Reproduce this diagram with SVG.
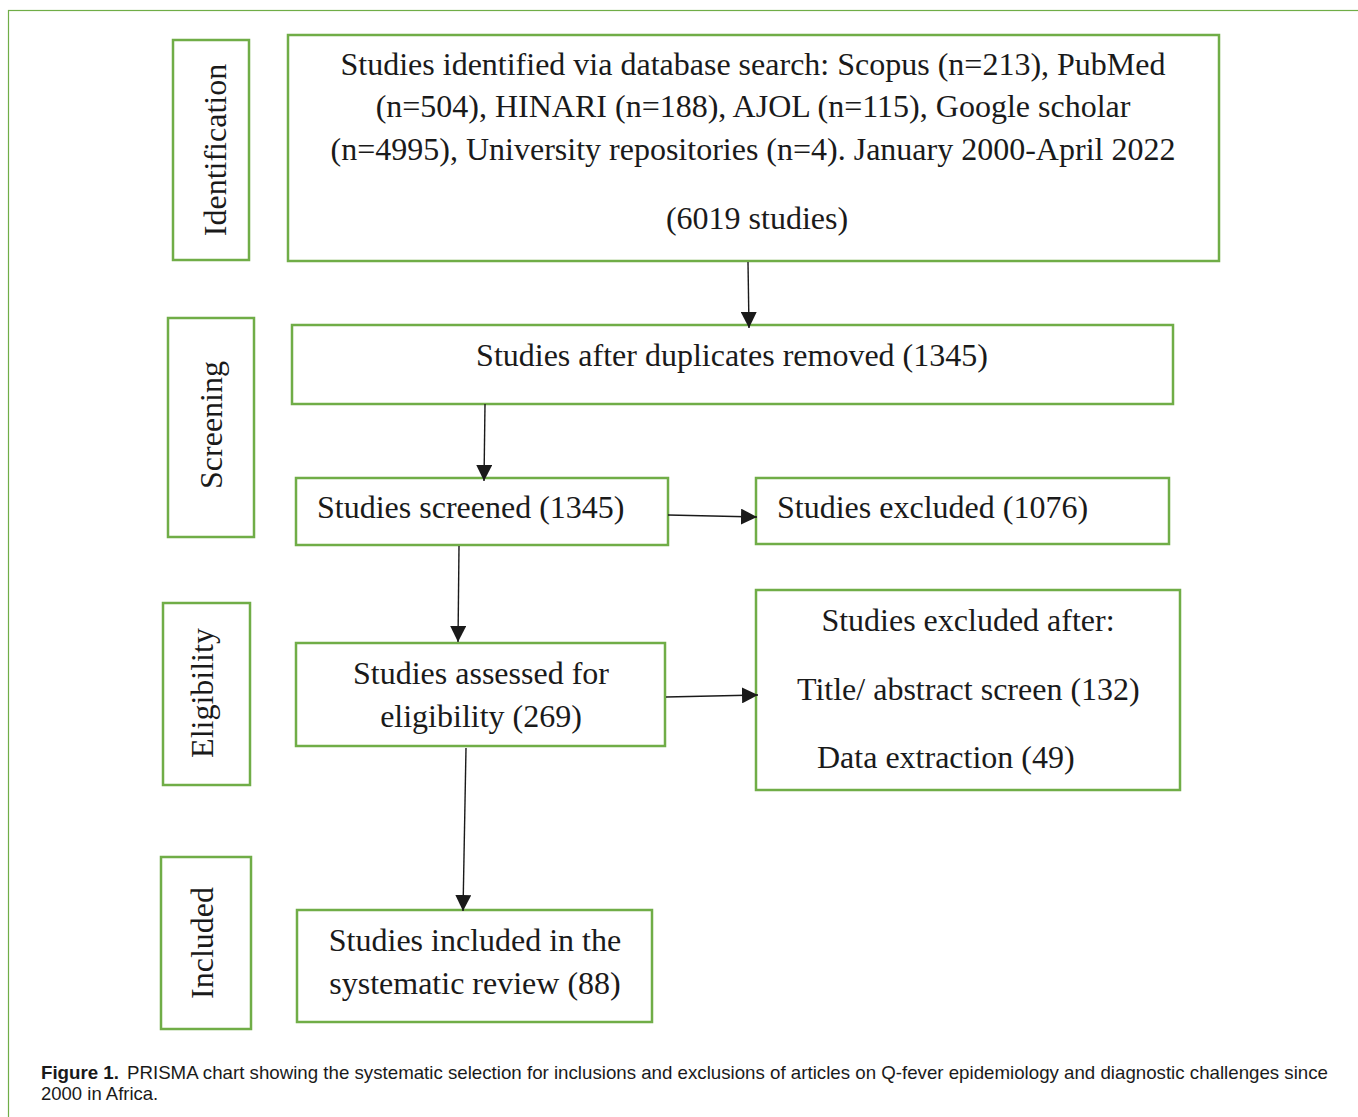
<svg xmlns="http://www.w3.org/2000/svg" width="1358" height="1117" viewBox="0 0 1358 1117">
<style>
.box{fill:#fff;stroke:#70ad47;stroke-width:2.5}
.t{font-family:"Liberation Serif","Times New Roman",serif;font-size:32px;fill:#1a1a1a}
.c{text-anchor:middle}
.edge{stroke:#1a1a1a;stroke-width:1.4;fill:none;marker-end:url(#ah)}
.cap{font-family:"Liberation Sans",Arial,sans-serif;font-size:18.5px;fill:#1a1a1a}
</style>
<defs>
<marker id="ah" viewBox="0 0 16 16" refX="16" refY="8" markerWidth="16" markerHeight="16" markerUnits="userSpaceOnUse" orient="auto">
<path d="M0,0 L16,8 L0,16 Z" fill="#1a1a1a"/>
</marker>
</defs>
<rect width="1358" height="1117" fill="#fff"/>
<rect x="8.5" y="10.5" width="1360" height="1120" fill="none" stroke="#70ad47" stroke-width="1.2"/>

<g id="lbl-identification">
<rect class="box" x="173" y="40" width="76" height="220"/>
<text class="t c" transform="translate(226,150) rotate(-90)">Identification</text>
</g>
<g id="lbl-screening">
<rect class="box" x="168" y="318" width="86" height="219"/>
<text class="t c" transform="translate(222,425) rotate(-90)">Screening</text>
</g>
<g id="lbl-eligibility">
<rect class="box" x="163" y="603" width="87" height="182"/>
<text class="t c" transform="translate(213,693) rotate(-90)">Eligibility</text>
</g>
<g id="lbl-included">
<rect class="box" x="161" y="857" width="90" height="172"/>
<text class="t c" transform="translate(213,943) rotate(-90)">Included</text>
</g>

<g id="n-identified">
<rect class="box" x="288" y="35" width="931" height="226"/>
<text class="t c" x="753" y="75">Studies identified via database search: Scopus (n=213), PubMed</text>
<text class="t c" x="753" y="117">(n=504), HINARI (n=188), AJOL (n=115), Google scholar</text>
<text class="t c" x="753" y="160">(n=4995), University repositories (n=4). January 2000-April 2022</text>
<text class="t c" x="757" y="229">(6019 studies)</text>
</g>
<g id="n-duplicates">
<rect class="box" x="292" y="325" width="881" height="79"/>
<text class="t c" x="732" y="366">Studies after duplicates removed (1345)</text>
</g>
<g id="n-screened">
<rect class="box" x="296" y="478" width="372" height="67"/>
<text class="t" x="317" y="518">Studies screened (1345)</text>
</g>
<g id="n-excluded1">
<rect class="box" x="756" y="478" width="413" height="66"/>
<text class="t" x="777" y="518">Studies excluded (1076)</text>
</g>
<g id="n-assessed">
<rect class="box" x="296" y="643" width="369" height="103"/>
<text class="t c" x="481" y="684">Studies assessed for</text>
<text class="t c" x="481" y="727">eligibility (269)</text>
</g>
<g id="n-excluded2">
<rect class="box" x="756" y="590" width="424" height="200"/>
<text class="t c" x="968" y="631">Studies excluded after:</text>
<text class="t" x="797" y="700">Title/ abstract screen (132)</text>
<text class="t" x="817" y="768">Data extraction (49)</text>
</g>
<g id="n-included">
<rect class="box" x="297" y="910" width="355" height="112"/>
<text class="t c" x="475" y="951">Studies included in the</text>
<text class="t c" x="475" y="994">systematic review (88)</text>
</g>

<g id="connectors">
<line class="edge" x1="748" y1="262" x2="749" y2="328"/>
<line class="edge" x1="485" y1="404" x2="484" y2="481"/>
<line class="edge" x1="668" y1="515" x2="757" y2="517"/>
<line class="edge" x1="459" y1="546" x2="458" y2="642"/>
<line class="edge" x1="666" y1="697" x2="758" y2="695"/>
<line class="edge" x1="466" y1="748" x2="463" y2="911"/>
</g>

<g id="caption">
<text class="cap" x="41" y="1079" textLength="1287" lengthAdjust="spacingAndGlyphs"><tspan font-weight="bold">Figure 1.</tspan><tspan dx="8">PRISMA chart showing the systematic selection for inclusions and exclusions of articles on Q-fever epidemiology and diagnostic challenges since</tspan></text>
<text class="cap" x="41" y="1100">2000 in Africa.</text>
</g>
</svg>
